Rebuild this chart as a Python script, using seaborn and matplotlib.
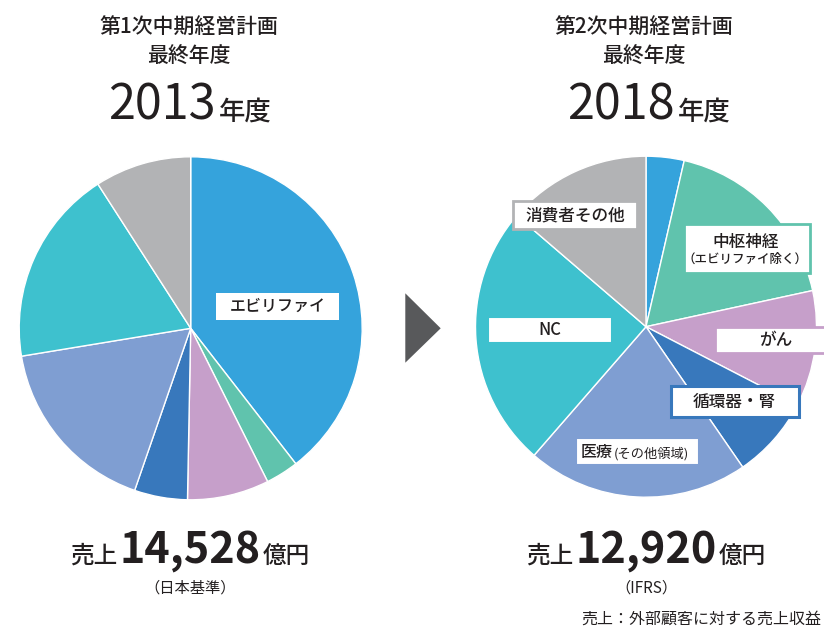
import matplotlib
matplotlib.use('Agg')
import matplotlib.pyplot as plt
from matplotlib.patches import Rectangle, Polygon
import seaborn as sns

sns.set_theme(style='white')
plt.rcParams['font.family'] = ['Noto Sans CJK JP', 'DejaVu Sans']

# %% data (shares, %)
segments = ['エビリファイ', '中枢神経', 'がん', '循環器・腎', '医療', 'NC', '消費者その他']
share_2013 = [39.5, 3.1, 7.7, 5.0, 17.1, 18.5, 9.1]
share_2018 = [3.6, 18.0, 11.0, 7.8, 21.0, 24.9, 13.7]
years = ['2013', '2018']
plans = ['第1次中期経営計画', '第2次中期経営計画']
sales = ['14,528', '12,920']
basis = ['（日本基準）', '（IFRS）']
note = '売上：外部顧客に対する売上収益'

colors = sns.color_palette(['#35A3DC', '#60C3AD', '#C69FCA', '#3878BC',
                            '#7F9ED2', '#3EC1CE', '#B2B3B5'])
txt = '#231F20'

W, H = 824, 633
fig = plt.figure(figsize=(W / 100, H / 100), dpi=100)


def fx(x):
    return x / W


def fy(y):
    return 1 - y / H


def pie_at(cx, cy, r, vals):
    ax = fig.add_axes([fx(cx - r), fy(cy + r), 2 * r / W, 2 * r / H])
    ax.pie(vals, colors=colors, startangle=90, counterclock=False,
           wedgeprops=dict(edgecolor='white', linewidth=1))
    ax.set_xlim(-1, 1)
    ax.set_ylim(-1, 1)
    ax.axis('off')
    return ax


pie_at(190.7, 328.3, 171.5, share_2013)
pie_at(646, 326.7, 170.5, share_2018)


def box(x0, y0, x1, y1, ec, lw=1.5):
    fig.add_artist(Rectangle((fx(x0), fy(y1)), (x1 - x0) / W, (y1 - y0) / H,
                             transform=fig.transFigure, facecolor='white',
                             edgecolor=ec, linewidth=lw, zorder=2))


def label(x, y, s, size=12, **kw):
    fig.text(fx(x), fy(y), s, ha='center', va='center', fontsize=size,
             color=txt, fontweight='medium', zorder=3, **kw)


# left pie label
box(216, 293, 339, 320, colors[0], 0)
label(277.5, 306.5, segments[0], 11.5)

# right pie labels
box(512.7, 200.7, 636.7, 229.3, colors[6], 2)
label(575, 215, segments[6])
box(684.3, 224, 810, 272.7, colors[1], 2)
label(746, 242, segments[1])
label(745, 259, '（エビリファイ除く）', 9)
box(488.3, 316.7, 611.7, 343.3, colors[5], 1.5)
label(550, 330, segments[5])
box(715, 326.7, 840, 353.3, colors[2], 2)
label(776, 340, segments[2])
box(671, 386, 799, 417.3, colors[3], 2.2)
label(734, 402, segments[3])
box(576, 438.3, 699.3, 465, colors[4], 1.5)
fig.text(fx(581), fy(457.5), segments[4], ha='left', va='baseline',
         fontsize=11.5, color=txt, fontweight='medium', zorder=3)
fig.text(fx(614), fy(457.5), '(その他領域)', ha='left', va='baseline',
         fontsize=9.5, color=txt, zorder=3)

# arrow between the pies
fig.add_artist(Polygon([(fx(405.3), fy(293.3)), (fx(440.7), fy(328.3)),
                        (fx(405.3), fy(362.7))], closed=True,
                       transform=fig.transFigure, facecolor='#58595B',
                       edgecolor='none'))

# headers
rend = fig.canvas.get_renderer()
for cx, split, yr, plan in zip([189, 644], [216, 674.5], years, plans):
    fig.text(fx(cx), fy(27.5), plan, ha='center', va='center', fontsize=15,
             color=txt, fontweight='medium')
    fig.text(fx(cx), fy(56.5), '最終年度', ha='center', va='center',
             fontsize=15, color=txt, fontweight='medium')
    fig.text(fx(split), fy(120), yr, ha='right', va='baseline', fontsize=35,
             color=txt)
    fig.text(fx(split + 3), fy(120), '年度', ha='left', va='baseline',
             fontsize=19, color=txt, fontweight='medium')

# sales figures
for cx, val, b in zip([190, 646], sales, basis):
    t = fig.text(fx(cx), fy(563), val, ha='center', va='baseline',
                 fontsize=31, fontweight='bold', color=txt)
    bb = t.get_window_extent(rend)
    fig.text((bb.x0 - 2) / W, fy(563), '売上', ha='right', va='baseline',
             fontsize=17, fontweight='medium', color=txt)
    fig.text((bb.x1 + 2) / W, fy(563), '億円', ha='left', va='baseline',
             fontsize=17, fontweight='medium', color=txt)
    fig.text(fx(cx), fy(588), b, ha='center', va='center', fontsize=11,
             color=txt)

fig.text(fx(821), fy(619), note, ha='right', va='center', fontsize=11.5,
         color=txt)

fig.savefig('out.png', dpi=100)
